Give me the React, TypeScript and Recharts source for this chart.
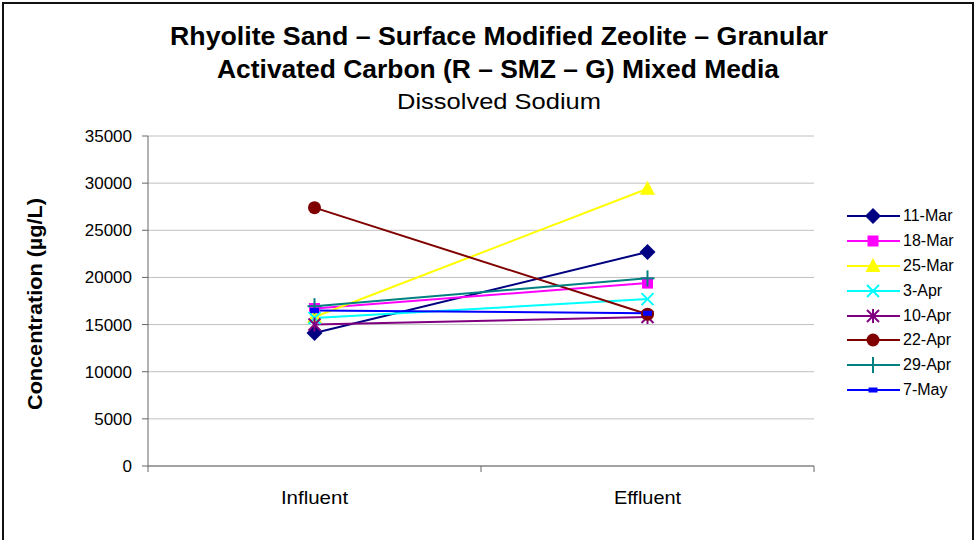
import React from 'react';
import { LineChart, Line, XAxis, YAxis, CartesianGrid } from 'recharts';

const categories = ['Influent', 'Effluent'];
const seriesNames = ['11-Mar', '18-Mar', '25-Mar', '3-Apr', '10-Apr', '22-Apr', '29-Apr', '7-May'];
const influentValues = [14100, 16700, 15800, 15700, 15000, 27400, 16950, 16500];
const effluentValues = [22700, 19400, 29400, 17700, 15800, 16100, 19900, 16200];
const yTicks = [0, 5000, 10000, 15000, 20000, 25000, 30000, 35000];

const seriesColors = ['#000080', '#FF00FF', '#FFFF00', '#00FFFF', '#800080', '#800000', '#008080', '#0000FF'];
const seriesShapes = ['diamond', 'square', 'triangle', 'x', 'star', 'circle', 'plus', 'dash'];

const valuesByCategory = [influentValues, effluentValues];
const data = categories.map((name, ci) => {
  const row: Record<string, string | number> = { name };
  seriesNames.forEach((s, si) => {
    row[s] = valuesByCategory[ci][si];
  });
  return row;
});

const FONT = '"Liberation Sans", Arial, sans-serif';
const X_TICK_SIZE = 6;
const X_TICK_MARGIN = 19;

function Marker({ shape, color, cx, cy }: { shape: string; color: string; cx: number; cy: number }) {
  switch (shape) {
    case 'diamond':
      return <polygon points={`${cx},${cy - 8} ${cx + 8},${cy} ${cx},${cy + 8} ${cx - 8},${cy}`} fill={color} />;
    case 'square':
      return <rect x={cx - 5.5} y={cy - 5.5} width={11} height={11} fill={color} />;
    case 'triangle':
      return <polygon points={`${cx},${cy - 8} ${cx + 7.5},${cy + 6} ${cx - 7.5},${cy + 6}`} fill={color} />;
    case 'x':
      return (
        <g stroke={color} strokeWidth={2}>
          <line x1={cx - 6} y1={cy - 6} x2={cx + 6} y2={cy + 6} />
          <line x1={cx - 6} y1={cy + 6} x2={cx + 6} y2={cy - 6} />
        </g>
      );
    case 'star':
      return (
        <g stroke={color} strokeWidth={2}>
          <line x1={cx - 6} y1={cy - 6} x2={cx + 6} y2={cy + 6} />
          <line x1={cx - 6} y1={cy + 6} x2={cx + 6} y2={cy - 6} />
          <line x1={cx} y1={cy - 7} x2={cx} y2={cy + 7} />
        </g>
      );
    case 'circle':
      return <circle cx={cx} cy={cy} r={6.5} fill={color} />;
    case 'plus':
      return (
        <g stroke={color} strokeWidth={2}>
          <line x1={cx} y1={cy - 8} x2={cx} y2={cy + 8} />
          <line x1={cx - 7} y1={cy} x2={cx + 7} y2={cy} />
        </g>
      );
    case 'dash':
      return <rect x={cx - 4.5} y={cy - 2.5} width={9} height={5} fill={color} />;
    default:
      return null;
  }
}

function XTick(props: any) {
  const { x, y, payload, index, visibleTicksCount } = props;
  const axisY = y - X_TICK_SIZE - X_TICK_MARGIN;
  const half = payload.offset || 0;
  return (
    <g>
      <line x1={x - half} y1={axisY} x2={x - half} y2={axisY + X_TICK_SIZE} stroke="#666" strokeWidth={1} />
      {index === visibleTicksCount - 1 && (
        <line x1={x + half} y1={axisY} x2={x + half} y2={axisY + X_TICK_SIZE} stroke="#666" strokeWidth={1} />
      )}
      <text x={x} y={y} dy="0.71em" textAnchor="middle" fill="#000" fontSize={19} fontFamily={FONT} textLength={payload.value.length * 8.4} lengthAdjust="spacingAndGlyphs">
        {payload.value}
      </text>
    </g>
  );
}

export default function App() {
  return (
    <div style={{ position: 'absolute', left: 0, top: 0, width: 974, height: 540, background: '#fff', overflow: 'hidden', fontFamily: FONT }}>
      <div style={{ position: 'absolute', left: 2, top: 2, width: 968, height: 580, border: '2px solid #111' }} />
      <svg width={974} height={130} style={{ position: 'absolute', left: 0, top: 0 }}>
        <text x={499} y={45} textAnchor="middle" fontSize={25} fontWeight="bold" fontFamily={FONT} textLength={658} lengthAdjust="spacingAndGlyphs">
          Rhyolite Sand – Surface Modified Zeolite – Granular
        </text>
        <text x={498} y={78} textAnchor="middle" fontSize={25} fontWeight="bold" fontFamily={FONT} textLength={562} lengthAdjust="spacingAndGlyphs">
          Activated Carbon (R – SMZ – G) Mixed Media
        </text>
        <text x={499} y={109} textAnchor="middle" fontSize={22} fontFamily={FONT} textLength={204} lengthAdjust="spacingAndGlyphs">
          Dissolved Sodium
        </text>
      </svg>
      <svg width={60} height={540} style={{ position: 'absolute', left: 0, top: 0 }}>
        <text x={0} y={0} transform="translate(42,304) rotate(-90)" textAnchor="middle" fontSize={20} fontWeight="bold" fontFamily={FONT} textLength={212} lengthAdjust="spacingAndGlyphs">
          Concentration (µg/L)
        </text>
      </svg>
      <div style={{ position: 'absolute', left: 0, top: 0 }}>
        <LineChart width={974} height={540} data={data} margin={{ top: 136, right: 160, bottom: 44, left: 88 }}>
          <CartesianGrid vertical={false} stroke="#c0c0c0" strokeWidth={1} />
          <XAxis
            dataKey="name"
            scale="band"
            height={30}
            tickLine={false}
            tickSize={X_TICK_SIZE}
            tickMargin={X_TICK_MARGIN}
            stroke="#666"
            tick={<XTick />}
            interval={0}
          />
          <YAxis
            width={60}
            domain={[0, 35000]}
            ticks={yTicks}
            tickSize={6}
            tickMargin={10}
            stroke="#666"
            tick={{ fill: '#000', fontSize: 17, fontFamily: FONT }}
            interval={0}
          />
          {seriesNames.map((s, i) => (
            <Line
              key={s}
              dataKey={s}
              stroke={seriesColors[i]}
              strokeWidth={2}
              isAnimationActive={false}
              dot={(p: any) => (
                <Marker key={`${s}-${p.index}`} shape={seriesShapes[i]} color={seriesColors[i]} cx={p.cx} cy={p.cy} />
              )}
              activeDot={false}
            />
          ))}
        </LineChart>
      </div>
      <div style={{ position: 'absolute', left: 846, top: 204 }}>
        {seriesNames.map((s, i) => (
          <div key={s} style={{ display: 'flex', alignItems: 'center', height: 24.8 }}>
            <svg width={56} height={24}>
              <line x1={1} y1={12} x2={54} y2={12} stroke={seriesColors[i]} strokeWidth={2} />
              <Marker shape={seriesShapes[i]} color={seriesColors[i]} cx={27} cy={12} />
            </svg>
            <span style={{ fontSize: 16, color: '#000', marginLeft: 1, whiteSpace: 'nowrap' }}>{s}</span>
          </div>
        ))}
      </div>
    </div>
  );
}
